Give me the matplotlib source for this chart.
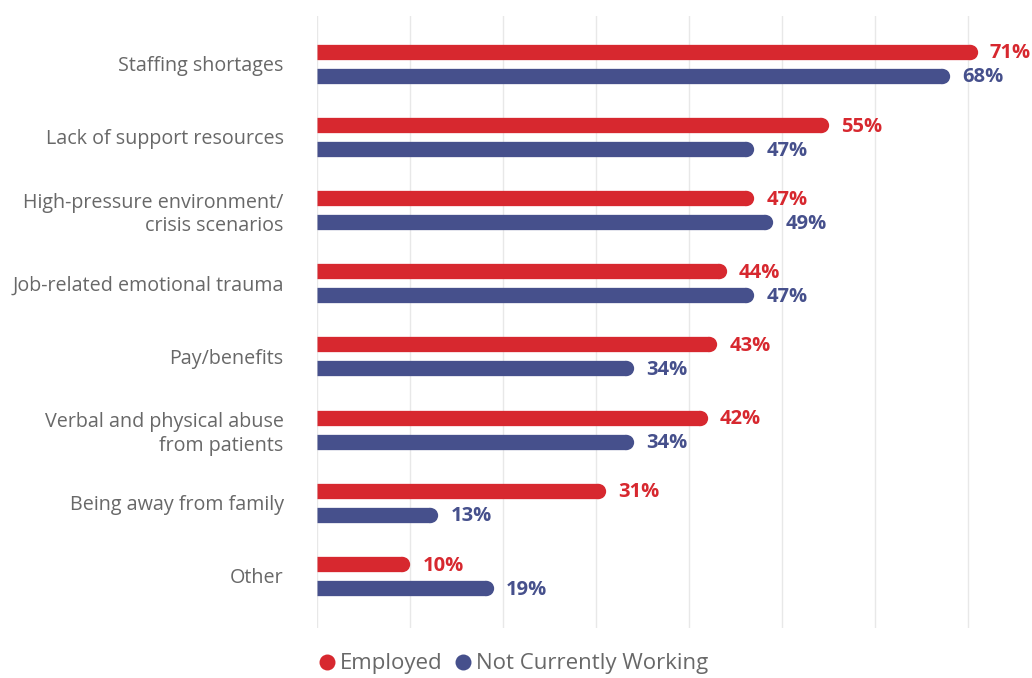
import matplotlib
matplotlib.use("Agg")
import matplotlib.pyplot as plt
from matplotlib.lines import Line2D

categories = [
    "Staffing shortages",
    "Lack of support resources",
    "High-pressure environment/\ncrisis scenarios",
    "Job-related emotional trauma",
    "Pay/benefits",
    "Verbal and physical abuse\nfrom patients",
    "Being away from family",
    "Other",
]
employed = [71, 55, 47, 44, 43, 42, 31, 10]
not_working = [68, 47, 49, 47, 34, 34, 13, 19]

series_names = ["Employed", "Not Currently Working"]
red = "#D7282F"
blue = "#46508C"
text_grey = "#686868"

plt.rcParams["font.family"] = ["Open Sans", "DejaVu Sans"]

W, H, DPI = 1032, 678, 100
fig = plt.figure(figsize=(W / DPI, H / DPI), dpi=DPI)
ax_left, ax_right = 317, 1032
ax_bottom, ax_top = 50, 662
ax = fig.add_axes([ax_left / W, ax_bottom / H, (ax_right - ax_left) / W, (ax_top - ax_bottom) / H])

px_per_unit = 9.3
xmax = (ax_right - ax_left) / px_per_unit
n = len(categories)
ax.set_xlim(0, xmax)
ax.set_ylim(n - 1 + 0.711, -0.652)

y_px_per_unit = (ax_top - ax_bottom) / (n - 1 + 0.711 + 0.652)
bar_h_px = 15.3
offset = 12 / y_px_per_unit
r_data = (bar_h_px / 2) / px_per_unit
bar_pts = bar_h_px * 72 / DPI

for k in range(0, 71, 10):
    ax.axvline(k, color="#E8E8E8", lw=1, zorder=0)


def rounded_bars(values, ypos, color):
    for v, y in zip(values, ypos):
        # square-ended body, then a round cap of the same thickness
        ax.plot([0, v - r_data], [y, y], color=color, lw=bar_pts,
                solid_capstyle="butt", zorder=2)
        ax.plot([v - r_data], [y], marker="o", markersize=bar_pts, color=color,
                markeredgewidth=0, zorder=2, clip_on=False)
        ax.annotate(f"{v}%", xy=(v, y), xytext=(9, -1.2), textcoords="offset points",
                    ha="left", va="center", color=color, fontsize=14.5, fontweight="bold",
                    annotation_clip=False)


idx = list(range(n))
rounded_bars(employed, [i - offset for i in idx], red)
rounded_bars(not_working, [i + offset for i in idx], blue)

ax.set_yticks(idx)
ax.set_yticklabels(categories, fontsize=14.2, color=text_grey, linespacing=1.25)
ax.tick_params(axis="y", length=0, pad=24)
ax.set_xticks([])
for s in ax.spines.values():
    s.set_visible(False)

handles = [
    Line2D([], [], marker="o", linestyle="", markersize=11.5, color=red, markeredgewidth=0),
    Line2D([], [], marker="o", linestyle="", markersize=11.5, color=blue, markeredgewidth=0),
]
fig.legend(handles, series_names, loc="center", bbox_to_anchor=(513 / W, 1 - 664 / H),
           ncol=2, frameon=False, fontsize=16, handletextpad=0.2, columnspacing=0.5,
           labelcolor=text_grey, handlelength=0.8)

fig.savefig("out.png", dpi=DPI)
